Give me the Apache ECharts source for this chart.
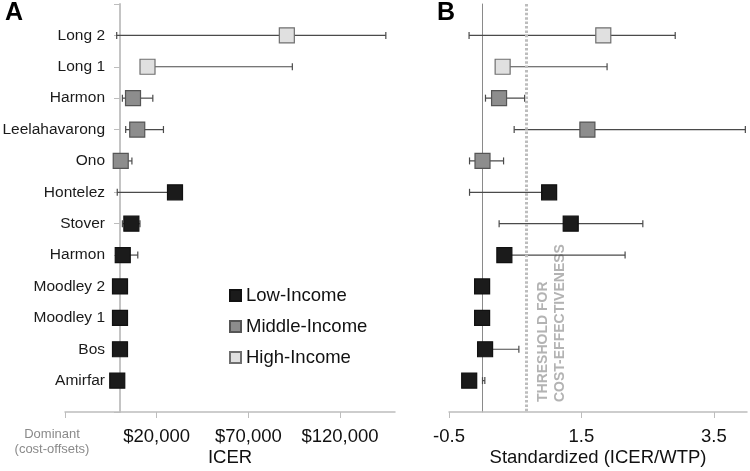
<!DOCTYPE html>
<html>
<head>
<meta charset="utf-8">
<script src="https://cdn.jsdelivr.net/npm/echarts@6/dist/echarts.min.js"></script>
<style>
  html, body { margin: 0; padding: 0; background: #fff; }
  #chart { width: 750px; height: 471px; }
</style>
</head>
<body>
<div id="chart"></div>
<script>
// ---- Data ----
const studies = ['Long 2', 'Long 1', 'Harmon', 'Leelahavarong', 'Ono', 'Hontelez', 'Stover', 'Harmon', 'Moodley 2', 'Moodley 1', 'Bos', 'Amirfar'];
const incomeGroup = ['High', 'High', 'Middle', 'Middle', 'Middle', 'Low', 'Low', 'Low', 'Low', 'Low', 'Low', 'Low'];

// Panel A: ICER (US$)
const icer     = [91000, 15000, 7100, 9400,  400, 30000, 6200, 1500,    0,    0,    0, -1500];
const icerLow  = [-1800,  null, 1300, 3100, null, -1500, 1300, null, null, null, null,  null];
const icerHigh = [145000, 94000, 17900, 23700, 6500, null, 10900, 9700, null, null, null, null];

// Panel B: Standardized (ICER/WTP)
const std     = [1.83, 0.31, 0.256, 1.59, 0.006, 1.012, 1.338, 0.336, 0, 0, 0.045, -0.195];
const stdLow  = [-0.197, null, 0.051, 0.484, -0.19, -0.19, 0.257, null, null, null, null, 0.006];
const stdHigh = [2.916, 1.887, 0.642, 3.975, 0.324, null, 2.427, 2.159, null, null, 0.555, 0.041];

const threshold = 0.67;

const ticksA = [-30000, 20000, 70000, 120000];
const ticksB = [-0.5, 1.5, 3.5];

const groups = ['Low', 'Middle', 'High'];
const groupNames = { Low: 'Low-Income', Middle: 'Middle-Income', High: 'High-Income' };
const groupFill = { Low: '#1b1b1b', Middle: '#8d8d8d', High: '#e0e0e0' };
const groupBorder = { Low: '#111111', Middle: '#555555', High: '#6f6f6f' };

// category axis: empty slot at top and bottom, studies at 1..12
const categories = [' '].concat(studies, ['  ']);

const FONT = '"Liberation Sans", Arial, Helvetica, sans-serif';

function errData(center, low, high) {
  const out = [];
  for (let i = 0; i < center.length; i++) {
    if (low[i] == null && high[i] == null) continue;
    const lo = low[i] == null ? center[i] : low[i];
    const hi = high[i] == null ? center[i] : high[i];
    out.push([lo, hi, i + 1, low[i] == null ? 0 : 1, high[i] == null ? 0 : 1]);
  }
  return out;
}

function renderErr(params, api) {
  const y = api.value(2);
  const p1 = api.coord([api.value(0), y]);
  const p2 = api.coord([api.value(1), y]);
  const cap = 3.5;
  const st = { stroke: '#4a4a4a', lineWidth: 1.2 };
  const children = [{ type: 'line', shape: { x1: p1[0], y1: p1[1], x2: p2[0], y2: p2[1] }, style: st }];
  if (api.value(3)) children.push({ type: 'line', shape: { x1: p1[0], y1: p1[1] - cap, x2: p1[0], y2: p1[1] + cap }, style: st });
  if (api.value(4)) children.push({ type: 'line', shape: { x1: p2[0], y1: p2[1] - cap, x2: p2[0], y2: p2[1] + cap }, style: st });
  return { type: 'group', children: children };
}

function scatterSeries(values, gridIdx) {
  return groups.map(function (g) {
    const data = [];
    values.forEach(function (v, i) { if (incomeGroup[i] === g) data.push([v, i + 1]); });
    return {
      name: groupNames[g],
      type: 'scatter',
      xAxisIndex: gridIdx, yAxisIndex: gridIdx,
      symbol: 'rect', symbolSize: 15,
      z: 5,
      silent: true,
      itemStyle: { color: groupFill[g], borderColor: groupBorder[g], borderWidth: 1.2, opacity: 1 },
      data: data
    };
  });
}

function errSeries(gridIdx, center, low, high) {
  return {
    type: 'custom', xAxisIndex: gridIdx, yAxisIndex: gridIdx, silent: true, z: 3,
    dimensions: ['lo', 'hi', 'row', 'hasLo', 'hasHi'],
    encode: { x: ['lo', 'hi'], y: 'row' },
    renderItem: renderErr,
    data: errData(center, low, high)
  };
}

// threshold line (panel B) as its own line series with markLine
const thresholdSeries = {
  type: 'line', xAxisIndex: 1, yAxisIndex: 1, silent: true, z: 2,
  data: [],
  markLine: {
    silent: true, symbol: 'none', animation: false,
    label: { show: false },
    lineStyle: { type: [2.5, 1.9], color: '#bdbdbd', width: 3 },
    data: [{ xAxis: threshold }]
  }
};

const chart = echarts.init(document.getElementById('chart'), null, { renderer: 'canvas' });

const series = [errSeries(0, icer, icerLow, icerHigh), errSeries(1, std, stdLow, stdHigh), thresholdSeries]
  .concat(scatterSeries(icer, 0), scatterSeries(std, 1));

chart.setOption({
  animation: false,
  textStyle: { fontFamily: FONT },
  title: [
    { text: 'A', left: 5, top: 1, padding: 0, textStyle: { fontSize: 25, fontWeight: 'bold', color: '#000', fontFamily: FONT } },
    { text: 'B', left: 437, top: 1, padding: 0, textStyle: { fontSize: 25, fontWeight: 'bold', color: '#000', fontFamily: FONT } }
  ],
  legend: {
    data: ['Low-Income', 'Middle-Income', 'High-Income'],
    orient: 'vertical',
    left: 229, top: 286,
    padding: 0,
    itemWidth: 11, itemHeight: 11, itemGap: 12,
    icon: 'rect',
    selectedMode: false,
    textStyle: { fontSize: 18.5, lineHeight: 19, color: '#111', fontFamily: FONT }
  },
  grid: [
    { left: 65, right: 355, top: 4, bottom: 59, containLabel: false, outerBoundsMode: 'none' },
    { left: 449, right: 3, top: 4, bottom: 59, containLabel: false, outerBoundsMode: 'none' }
  ],
  xAxis: [
    {
      gridIndex: 0, type: 'value', min: -30000, max: 150000,
      splitLine: { show: false },
      axisLine: { show: true, onZero: false, lineStyle: { color: '#bdbdbd', width: 1.5 } },
      axisTick: { show: true, customValues: ticksA, length: 6, lineStyle: { color: '#bdbdbd' } },
      axisLabel: {
        customValues: ticksA, margin: 15, fontSize: 18.5, color: '#111', fontFamily: FONT,
        showMinLabel: true, hideOverlap: false,
        formatter: function (v) {
          if (v < 0) return '{d|Dominant}\n{d|(cost-offsets)}';
          return '$' + v.toLocaleString('en-US');
        },
        rich: { d: { fontSize: 13, color: '#8a8a8a', lineHeight: 15, padding: [0, 26, 0, 0], fontFamily: FONT } }
      },
      name: 'ICER', nameLocation: 'middle', nameGap: 36, nameMoveOverlap: false,
      nameTextStyle: { fontSize: 18.5, color: '#111', fontFamily: FONT }
    },
    {
      gridIndex: 1, type: 'value', min: -0.5, max: 4,
      splitLine: { show: false },
      axisLine: { show: true, onZero: false, lineStyle: { color: '#bdbdbd', width: 1.5 } },
      axisTick: { show: true, customValues: ticksB, length: 6, lineStyle: { color: '#bdbdbd' } },
      axisLabel: {
        customValues: ticksB, margin: 15, fontSize: 18.5, color: '#111', fontFamily: FONT,
        showMinLabel: true,
        formatter: function (v) { return v.toFixed(1); }
      },
      name: 'Standardized (ICER/WTP)', nameLocation: 'middle', nameGap: 36, nameMoveOverlap: false,
      nameTextStyle: { fontSize: 18.5, color: '#111', fontFamily: FONT }
    }
  ],
  yAxis: [
    {
      gridIndex: 0, type: 'category', data: categories, inverse: true, boundaryGap: false,
      axisLine: { onZero: true, lineStyle: { color: '#c4c4c4', width: 2 } },
      axisTick: { show: true, length: 6, lineStyle: { color: '#bdbdbd' } },
      axisLabel: { fontSize: 15.5, color: '#1a1a1a', margin: -40, interval: 0, fontFamily: FONT },
      splitLine: { show: false }
    },
    {
      gridIndex: 1, type: 'category', data: categories, inverse: true, boundaryGap: false,
      axisLine: { onZero: true, lineStyle: { color: '#8a8a8a', width: 1 } },
      axisTick: { show: false },
      axisLabel: { show: false },
      splitLine: { show: false }
    }
  ],
  graphic: [
    {
      type: 'text', x: 552, y: 402, rotation: Math.PI / 2, silent: true,
      style: {
        text: 'THRESHOLD FOR\nCOST-EFFECTIVENESS',
        fill: '#b3b3b3', fontSize: 14, fontWeight: 'bold', fontFamily: FONT,
        align: 'left', verticalAlign: 'middle', lineHeight: 17
      }
    }
  ],
  series: series
});
</script>
</body>
</html>
